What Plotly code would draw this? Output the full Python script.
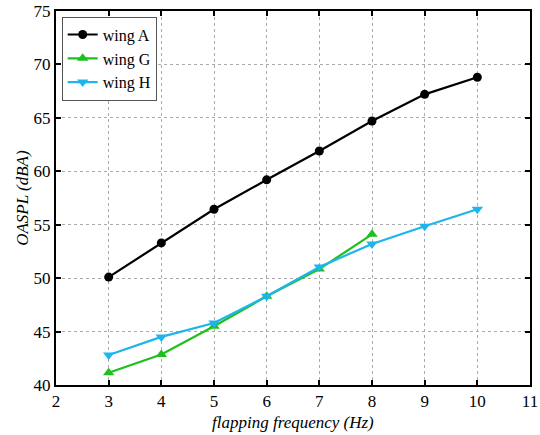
import plotly.graph_objects as go

freq_A = [3, 4, 5, 6, 7, 8, 9, 10]
wing_A = [50.1, 53.3, 56.45, 59.2, 61.9, 64.7, 67.2, 68.8]
freq_G = [3, 4, 5, 6, 7, 8]
wing_G = [41.15, 42.85, 45.5, 48.3, 50.85, 54.1]
freq_H = [3, 4, 5, 6, 7, 8, 9, 10]
wing_H = [42.8, 44.5, 45.8, 48.3, 51.05, 53.2, 54.85, 56.45]

font = "Liberation Serif"

fig = go.Figure()
fig.add_trace(go.Scatter(x=freq_A, y=wing_A, name="wing A", mode="lines+markers",
                         line=dict(color="black", width=2.2),
                         marker=dict(symbol="circle", size=9, color="black")))
fig.add_trace(go.Scatter(x=freq_G, y=wing_G, name="wing G", mode="lines+markers",
                         line=dict(color="#1ec01e", width=2.2),
                         marker=dict(symbol="triangle-up", size=10, color="#1ec01e")))
fig.add_trace(go.Scatter(x=freq_H, y=wing_H, name="wing H", mode="lines+markers",
                         line=dict(color="#1eb4ec", width=2.2),
                         marker=dict(symbol="triangle-down", size=10, color="#1eb4ec")))

axis_common = dict(showline=True, linecolor="black", linewidth=2, mirror="ticks",
                   ticks="inside", ticklen=5, tickwidth=1.5, tickcolor="black",
                   showgrid=True, gridcolor="#aaaaaa", griddash="dot", gridwidth=1,
                   zeroline=False, automargin=False,
                   tickfont=dict(family=font, size=17, color="black"))

fig.update_xaxes(range=[2, 11], dtick=1, tick0=2, **axis_common)
fig.update_yaxes(range=[40, 75], dtick=5, tick0=40, **axis_common)

fig.add_annotation(text="<i>flapping frequency (Hz)</i>", x=0.5, y=-0.07,
                   xref="paper", yref="paper", xanchor="center", yanchor="top",
                   showarrow=False, font=dict(family=font, size=17, color="black"))
fig.add_annotation(text="<i>OASPL (dBA)</i>", x=-0.072, y=0.5, xref="paper", yref="paper",
                   xanchor="center", yanchor="middle", showarrow=False, textangle=-90,
                   font=dict(family=font, size=17, color="black"))

fig.update_layout(width=540, height=435,
                  margin=dict(l=56, r=10, t=11, b=50, autoexpand=False),
                  paper_bgcolor="white", plot_bgcolor="white",
                  showlegend=True,
                  legend=dict(x=0.012, y=0.985, xanchor="left", yanchor="top",
                              bgcolor="white", bordercolor="#555555", borderwidth=1,
                              font=dict(family=font, size=16, color="black"),
                              tracegroupgap=0))

fig.write_html("out.html", config={"displayModeBar": False},
               post_script="document.body.style.margin='0';")
